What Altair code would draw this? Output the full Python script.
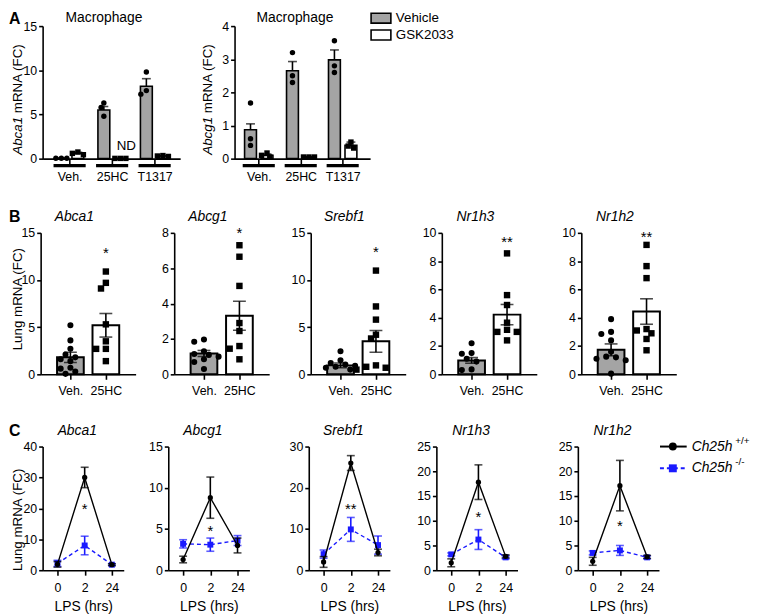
import json
import altair as alt
import pandas as pd

FONT = "Liberation Sans"
GRAY = "#a4a4a4"
BLUE = "#1a1aff"
LW = 1.6
TICK_FS = 12.5

# ---------------- Panel A data ----------------
a_groups = ["Veh.", "25HC", "T1317"]
a_treatments = ["Vehicle", "GSK2033"]
a1_vehicle_mean = [0.05, 5.5, 8.2]
a1_vehicle_sem = [0.02, 0.4, 0.85]
a1_gsk_mean = [0.6, 0.03, 0.3]
a1_gsk_sem = [0.12, 0.01, 0.05]
a1_vehicle_points = [[0.05, 0.05, 0.05], [6.3, 5.8, 4.8], [9.8, 7.7, 7.3]]
a1_gsk_points = [[0.45, 0.6, 0.75], [0.03, 0.03, 0.03], [0.25, 0.3, 0.35]]

a2_vehicle_mean = [0.87, 2.65, 2.98]
a2_vehicle_sem = [0.18, 0.28, 0.3]
a2_gsk_mean = [0.1, 0.05, 0.4]
a2_gsk_sem = [0.04, 0.01, 0.1]
a2_vehicle_points = [[1.68, 0.6, 0.4], [3.2, 2.5, 2.3], [3.56, 2.8, 2.6]]
a2_gsk_points = [[0.17, 0.1, 0.05], [0.05, 0.05, 0.05], [0.5, 0.38, 0.32]]

# ---------------- Panel B data ----------------
b_genes = ["Abca1", "Abcg1", "Srebf1", "Nr1h3", "Nr1h2"]
b_groups = ["Veh.", "25HC"]
b_veh_mean = [1.8, 1.18, 0.95, 0.98, 1.73]
b_veh_sem = [0.55, 0.17, 0.25, 0.2, 0.42]
b_hc_mean = [5.2, 3.31, 3.5, 4.22, 4.44]
b_hc_sem = [1.25, 0.82, 1.15, 0.72, 0.9]
b_veh_points = [
    [5.2, 3.6, 2.7, 2.1, 1.8, 1.6, 1.4, 0.7, 0.6, 0.3, 0.05],
    [1.97, 1.84, 1.3, 1.15, 1.1, 1.0, 0.85, 0.7, 0.3],
    [2.45, 1.5, 1.2, 1.05, 0.9, 0.8, 0.7, 0.5],
    [2.2, 1.5, 1.45, 1.1, 0.9, 0.35, 0.3],
    [3.9, 3.0, 2.85, 2.4, 1.6, 1.25, 1.2, 1.1, 1.0, 0.05],
]
b_hc_points = [
    [10.9, 9.7, 9.1, 5.3, 3.5, 2.7, 2.7, 1.4],
    [7.3, 6.65, 5.0, 2.9, 2.45, 1.6, 1.45, 0.85],
    [11.0, 7.2, 5.8, 4.2, 3.8, 0.95, 0.8, 0.7, 0.5],
    [8.55, 5.6, 4.9, 3.65, 3.15, 3.0, 3.0, 2.4],
    [9.15, 7.65, 6.8, 3.2, 3.1, 2.9, 2.5, 1.7],
]
b_ymax = [15, 8, 15, 10, 10]
b_ystep = [5, 2, 5, 2, 2]
b_stars = ["*", "*", "*", "**", "**"]
b_star_y = [13.3, 8.2, 13.4, 9.6, 10.0]

# ---------------- Panel C data ----------------
c_genes = ["Abca1", "Abcg1", "Srebf1", "Nr1h3", "Nr1h2"]
c_times = ["0", "2", "24"]
c_wt_mean = [[1.9, 30.0, 1.8], [1.3, 8.8, 3.0], [2.0, 26.0, 4.3], [1.5, 17.8, 2.8], [1.8, 17.1, 2.7]]
c_wt_sem = [[0.9, 3.3, 0.3], [0.4, 2.5, 0.9], [1.3, 1.8, 0.8], [0.8, 3.5, 0.3], [0.8, 5.1, 0.3]]
c_ko_mean = [[2.2, 8.0, 1.8], [3.2, 3.1, 3.6], [3.9, 9.9, 6.1], [3.2, 6.2, 2.6], [3.5, 4.0, 2.6]]
c_ko_sem = [[1.0, 3.0, 0.3], [0.5, 0.8, 0.6], [1.0, 2.9, 2.2], [0.3, 2.0, 0.3], [0.4, 1.0, 0.3]]
c_ymax = [40, 15, 30, 25, 25]
c_ystep = [10, 5, 10, 5, 5]
c_stars = ["*", "*", "**", "*", "*"]
c_star_y = [21.0, 5.2, 15.7, 11.6, 9.8]


# ---------------- helpers ----------------
def axis_common(**kw):
    base = dict(grid=False, domainColor="black", domainWidth=LW, tickColor="black",
                tickWidth=LW, labelFont=FONT, labelFontSize=TICK_FS, labelColor="black",
                labelOverlap=False, labelFlush=False, title=None)
    base.update(kw)
    return alt.Axis(**base)


def y_enc(field, ymax, ystep):
    return alt.Y(f"{field}:Q", scale=alt.Scale(domain=[0, ymax], nice=False, zero=True),
                 axis=axis_common(values=list(range(0, ymax + 1, ystep)), tickSize=4,
                                  labelPadding=2))


def x_enc(field, xdom, labels, tick_size, label_pad, title=None):
    expr = json.dumps(labels) + "[round(datum.value)]"
    extra = {}
    if title:
        extra = dict(title=title, titleFont=FONT, titleFontSize=14,
                     titleFontWeight="normal", titleColor="black", titlePadding=5)
    return alt.X(f"{field}:Q", scale=alt.Scale(domain=xdom, nice=False, zero=False),
                 axis=axis_common(values=list(range(len(labels))), labelExpr=expr,
                                  tickSize=tick_size, labelPadding=label_pad,
                                  labelAngle=0, **extra))


def label(text, x, y, size, angle=0, align="center", baseline="middle",
          style="normal", weight="normal", color="black"):
    return alt.Chart(pd.DataFrame({"t": [text]})).mark_text(
        font=FONT, fontSize=size, angle=angle, align=align, baseline=baseline,
        fontStyle=style, fontWeight=weight, color=color
    ).encode(x=alt.value(x), y=alt.value(y), text="t:N")


def swarm(values, center, ppx, ppy, d=6.5, step=5.5):
    placed = []
    xs = [0.0] * len(values)
    for i in sorted(range(len(values)), key=lambda k: -values[k]):
        ypx = values[i] * ppy
        k = 0
        while True:
            cand = 0.0 if k == 0 else ((k + 1) // 2) * step * (-1 if k % 2 else 1)
            if all((cand - px) ** 2 + (ypx - py) ** 2 >= d * d for px, py in placed):
                break
            k += 1
        placed.append((cand, ypx))
        xs[i] = center + cand / ppx
    return xs


def spacer():
    return alt.Chart(pd.DataFrame({"k": [0]})).mark_rule(opacity=0, strokeWidth=0).encode(
        x=alt.value(0), y=alt.value(0), y2=alt.value(1)).properties(width=1, height=1)


# ---------------- panel A ----------------
def panel_a(gene, vm, vs, gm, gs, vp, gp, ymax, ystep, xdom, W, H, ytitle_x, title_x,
            letter=False, legend=False, nd=False):
    ppx = W / (xdom[1] - xdom[0])
    ppy = H / ymax
    off = 9.0 / ppx
    half = 17.5 / ppx
    bar_rows, pv, pg, under = [], [], [], []
    for gi in range(len(a_groups)):
        bar_rows.append(dict(pos=gi - off, mean=vm[gi], hi=vm[gi] + vs[gi], fill=GRAY))
        bar_rows.append(dict(pos=gi + off, mean=gm[gi], hi=gm[gi] + gs[gi], fill="white"))
        for v, xx in zip(vp[gi], swarm(vp[gi], gi - off, ppx, ppy, d=5, step=3)):
            pv.append(dict(pos=xx, val=v))
        for v, xx in zip(gp[gi], swarm(gp[gi], gi + off, ppx, ppy, d=5, step=3)):
            pg.append(dict(pos=xx, val=v))
        under.append(dict(x0=gi - half, x1=gi + half))
    bars_df = pd.DataFrame(bar_rows)

    def X(f):
        return x_enc(f, xdom, a_groups, 7, 5)

    def Y(f):
        return y_enc(f, ymax, ystep)

    layers = [
        alt.Chart(bars_df).mark_bar(orient="vertical", size=12, stroke="black",
                                    strokeWidth=LW).encode(
            x=X("pos"), y=Y("mean"), fill=alt.Fill("fill:N", scale=None)),
        alt.Chart(pd.DataFrame(pv)).mark_point(shape="circle", filled=True, size=30,
                                               color="black", opacity=1).encode(
            x=X("pos"), y=Y("val")),
        alt.Chart(pd.DataFrame(pg)).mark_point(shape="square", filled=True, size=30,
                                               color="black", opacity=1).encode(
            x=X("pos"), y=Y("val")),
        alt.Chart(bars_df).mark_rule(color="black", strokeWidth=LW).encode(
            x=X("pos"), y=Y("mean"), y2="hi:Q"),
        alt.Chart(bars_df).mark_tick(orient="horizontal", size=9, thickness=LW,
                                     color="black").encode(x=X("pos"), y=Y("hi")),
        alt.Chart(pd.DataFrame(under)).mark_rule(color="black", strokeWidth=3.2).encode(
            x=X("x0"), x2="x1:Q", y=alt.value(H + 7)),
        label(gene, ytitle_x, H - 4, 13.5, angle=270, align="left", style="italic"),
        label("mRNA (FC)", ytitle_x, H - 46, 13.5, angle=270, align="left"),
        label("Macrophage", title_x, -8, 14),
    ]
    if nd:
        layers.append(alt.Chart(pd.DataFrame({"pos": [1 + off], "val": [0.0], "t": ["ND"]}))
                      .mark_text(font=FONT, fontSize=13.5, color="black", dx=6, dy=-13)
                      .encode(x=X("pos"), y=Y("val"), text="t:N"))
    if letter:
        layers.append(label("A", -34, -7, 16, align="left", weight="bold"))
    if legend:
        for k, (name, fill) in enumerate(zip(a_treatments, [GRAY, "white"])):
            yc = -8 + 17 * k
            layers.append(alt.Chart(pd.DataFrame({"t": [name]})).mark_rect(
                fill=fill, stroke="black", strokeWidth=LW).encode(
                x=alt.value(138), x2=alt.value(158), y=alt.value(yc - 5), y2=alt.value(yc + 5)))
            layers.append(label(name, 163, yc, 13.5, align="left"))
    return alt.layer(*layers).properties(width=W, height=H)


# ---------------- panel B ----------------
def panel_b(i, W=96):
    H = 143
    step = 40.0
    xdom = [-28 / step, (W - 28) / step]
    ppy = H / b_ymax[i]
    bars_df = pd.DataFrame(dict(
        pos=[0, 1], mean=[b_veh_mean[i], b_hc_mean[i]],
        lo=[b_veh_mean[i] - b_veh_sem[i], b_hc_mean[i] - b_hc_sem[i]],
        hi=[b_veh_mean[i] + b_veh_sem[i], b_hc_mean[i] + b_hc_sem[i]],
        fill=[GRAY, "white"]))
    pv = pd.DataFrame(dict(pos=swarm(b_veh_points[i], 0, step, ppy), val=b_veh_points[i]))
    ph = pd.DataFrame(dict(pos=swarm(b_hc_points[i], 1, step, ppy), val=b_hc_points[i]))

    def X(f):
        return x_enc(f, xdom, b_groups, 5, 5)

    def Y(f):
        return y_enc(f, b_ymax[i], b_ystep[i])

    layers = [
        alt.Chart(bars_df).mark_bar(orient="vertical", size=27, stroke="black",
                                    strokeWidth=2).encode(
            x=X("pos"), y=Y("mean"), fill=alt.Fill("fill:N", scale=None)),
        alt.Chart(pv).mark_point(shape="circle", filled=True, size=38, color="black",
                                 opacity=1).encode(x=X("pos"), y=Y("val")),
        alt.Chart(ph).mark_point(shape="square", filled=True, size=42, color="black",
                                 opacity=1).encode(x=X("pos"), y=Y("val")),
        alt.Chart(bars_df).mark_rule(color="black", strokeWidth=LW).encode(
            x=X("pos"), y=Y("lo"), y2="hi:Q"),
        alt.Chart(bars_df).mark_tick(orient="horizontal", size=13, thickness=LW,
                                     color="black").encode(x=X("pos"), y=Y("hi")),
        alt.Chart(bars_df).mark_tick(orient="horizontal", size=13, thickness=LW,
                                     color="black").encode(x=X("pos"), y=Y("lo")),
        alt.Chart(pd.DataFrame({"pos": [1], "val": [b_star_y[i]], "t": [b_stars[i]]}))
        .mark_text(font=FONT, fontSize=15, color="black", dy=4)
        .encode(x=X("pos"), y=Y("val"), text="t:N"),
        label(b_genes[i], 34, -16, 14, style="italic"),
    ]
    if i == 0:
        layers.append(label("Lung mRNA (FC)", -23, 67, 13.5, angle=270))
        layers.append(label("B", -32, -16, 16, align="left", weight="bold"))
    return alt.layer(*layers).properties(width=W, height=H)


# ---------------- panel C ----------------
def panel_c(i, W=82):
    H = 125
    step = 27.5
    xdom = [-15 / step, (W - 15) / step]

    def X(f):
        return x_enc(f, xdom, c_times, 5, 7, title="LPS (hrs)")

    def Y(f):
        return y_enc(f, c_ymax[i], c_ystep[i])

    def series(mean, sem, color, shape, size, dash):
        df = pd.DataFrame(dict(pos=list(range(len(c_times))), mean=mean,
                               lo=[m - s for m, s in zip(mean, sem)],
                               hi=[m + s for m, s in zip(mean, sem)]))
        line_kw = dict(color=color, strokeWidth=1.4)
        if dash:
            line_kw["strokeDash"] = [4, 3]
        return [
            alt.Chart(df).mark_line(**line_kw).encode(x=X("pos"), y=Y("mean")),
            alt.Chart(df).mark_rule(color=color, strokeWidth=LW).encode(
                x=X("pos"), y=Y("lo"), y2="hi:Q"),
            alt.Chart(df).mark_tick(orient="horizontal", size=8, thickness=LW,
                                    color=color).encode(x=X("pos"), y=Y("hi")),
            alt.Chart(df).mark_tick(orient="horizontal", size=8, thickness=LW,
                                    color=color).encode(x=X("pos"), y=Y("lo")),
            alt.Chart(df).mark_point(shape=shape, filled=True, size=size, color=color,
                                     opacity=1).encode(x=X("pos"), y=Y("mean")),
        ]

    layers = series(c_ko_mean[i], c_ko_sem[i], BLUE, "square", 36, True)
    layers += series(c_wt_mean[i], c_wt_sem[i], "black", "circle", 28, False)
    layers.append(
        alt.Chart(pd.DataFrame({"pos": [1], "val": [c_star_y[i]], "t": [c_stars[i]]}))
        .mark_text(font=FONT, fontSize=15, color="black", dy=4)
        .encode(x=X("pos"), y=Y("val"), text="t:N"))
    layers.append(label(c_genes[i], 35, -16, 14, style="italic"))
    if i == 0:
        layers.append(label("Lung mRNA (FC)", -25, 74, 13.5, angle=270))
        layers.append(label("C", -34, -16, 16, align="left", weight="bold"))
    if i == 4:
        one = pd.DataFrame({"k": [0]})
        layers += [
            alt.Chart(one).mark_rule(color="black", strokeWidth=2).encode(
                x=alt.value(83), x2=alt.value(110), y=alt.value(0)),
            alt.Chart(one).mark_point(shape="circle", filled=True, size=64, color="black",
                                      opacity=1).encode(x=alt.value(96), y=alt.value(0)),
            label("Ch25h", 115, 0, 14, align="left", style="italic"),
            label("+/+", 159, -6, 10, align="left"),
            alt.Chart(one).mark_rule(color=BLUE, strokeWidth=2, strokeDash=[4, 3]).encode(
                x=alt.value(83), x2=alt.value(110), y=alt.value(22)),
            alt.Chart(one).mark_point(shape="square", filled=True, size=64, color=BLUE,
                                      opacity=1).encode(x=alt.value(96), y=alt.value(22)),
            label("Ch25h", 115, 22, 14, align="left", style="italic"),
            label("-/-", 159, 16, 10, align="left"),
        ]
    return alt.layer(*layers).properties(width=W, height=H)


def chain(panels, gaps):
    row = panels[0]
    for p, g in zip(panels[1:], gaps):
        row = alt.hconcat(row, p, spacing=g)
    return row


A1 = panel_a("Abca1", a1_vehicle_mean, a1_vehicle_sem, a1_gsk_mean, a1_gsk_sem,
             a1_vehicle_points, a1_gsk_points, 15, 5, [-24 / 46.3, (139 - 24) / 46.3],
             139, 134, -25, 62, letter=True, nd=True)
A2 = panel_a("Abcg1", a2_vehicle_mean, a2_vehicle_sem, a2_gsk_mean, a2_gsk_sem,
             a2_vehicle_points, a2_gsk_points, 4, 1, [-21 / 45.75, (137 - 21) / 45.75],
             137, 134, -27, 61, legend=True)
row_a = chain([spacer(), A1, A2], [0, 20])
row_b = chain([spacer()] + [panel_b(k) for k in range(5)], [0, 26, 22, 16.5, 24.5])
row_c = chain([spacer()] + [panel_c(k) for k in range(5)], [0, 25, 40, 27, 41])

top = alt.concat(row_a, row_b, columns=1, spacing=26)
chart = alt.concat(top, row_c, columns=1, spacing=26).properties(
    padding=0).configure_view(stroke=None)

chart.save("out.html", embed_options={"renderer": "svg", "actions": False})
